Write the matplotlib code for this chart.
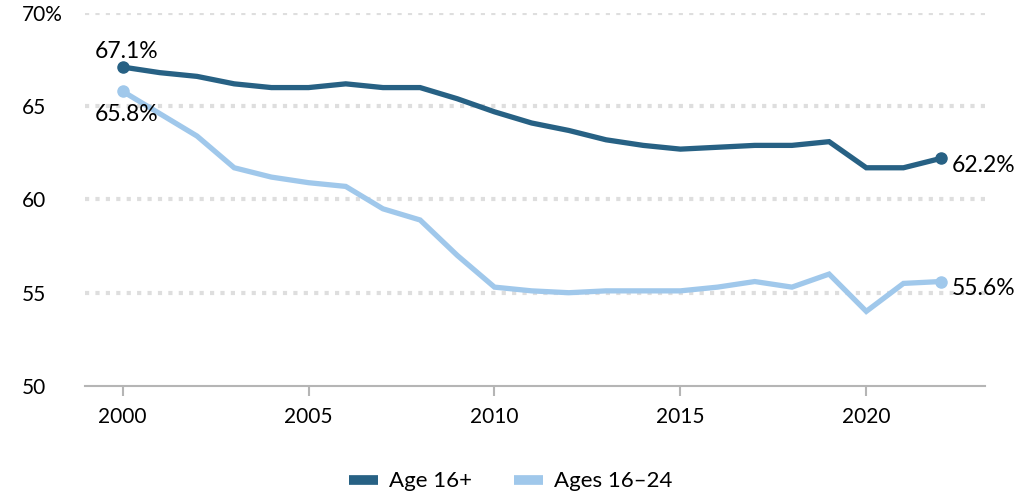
#!/usr/bin/env python3

import matplotlib
matplotlib.use("Agg")
import matplotlib.pyplot as plt

# labor force participation rate (%)
years = list(range(2000, 2023))
age16plus = [67.1, 66.8, 66.6, 66.2, 66.0, 66.0, 66.2, 66.0, 66.0, 65.4, 64.7,
             64.1, 63.7, 63.2, 62.9, 62.7, 62.8, 62.9, 62.9, 63.1, 61.7, 61.7, 62.2]
ages16_24 = [65.8, 64.6, 63.4, 61.7, 61.2, 60.9, 60.7, 59.5, 58.9, 57.0, 55.3,
             55.1, 55.0, 55.1, 55.1, 55.1, 55.3, 55.6, 55.3, 56.0, 54.0, 55.5, 55.6]
series_names = ["Age 16+", "Ages 16\u201324"]
yticks = [50, 55, 60, 65, 70]
ytick_labels = ["50", "55", "60", "65", "70%"]
xticks = [2000, 2005, 2010, 2015, 2020]

dark = "#276184"
light = "#a0c8eb"

plt.rcParams["font.family"] = ["Lato", "DejaVu Sans"]

fig = plt.figure(figsize=(10.21, 4.99), dpi=100)
ax = fig.add_axes([0.083, 0.2265, 0.882, 0.7475])

# dotted gridlines
for y in yticks[1:]:
    ax.axhline(y, color="#dedede", lw=3, linestyle=(0, (1, 1.5)), zorder=0)

p1, = ax.plot(years, age16plus, color=dark, lw=3.8, solid_joinstyle="miter", zorder=3)
p2, = ax.plot(years, ages16_24, color=light, lw=3.8, solid_joinstyle="miter", zorder=2)

# end point dots
ax.plot([years[0], years[-1]], [age16plus[0], age16plus[-1]], "o", color=dark, ms=8, zorder=4)
ax.plot([years[0], years[-1]], [ages16_24[0], ages16_24[-1]], "o", color=light, ms=8, zorder=4)

# value labels
fs = 16.5
ax.annotate(f"{age16plus[0]}%", (years[0], age16plus[0]), xytext=(3, 11),
            textcoords="offset points", ha="center", va="center", fontsize=fs)
ax.annotate(f"{ages16_24[0]}%", (years[0], ages16_24[0]), xytext=(3, -17),
            textcoords="offset points", ha="center", va="center", fontsize=fs)
ax.annotate(f"{age16plus[-1]}%", (years[-1], age16plus[-1]), xytext=(8, -5),
            textcoords="offset points", ha="left", va="center", fontsize=fs)
ax.annotate(f"{ages16_24[-1]}%", (years[-1], ages16_24[-1]), xytext=(8, -5),
            textcoords="offset points", ha="left", va="center", fontsize=fs)

ax.set_xlim(1998.98, 2023.2)
ax.set_ylim(50, 70)
ax.set_xticks(xticks)
ax.set_yticks(yticks)
ax.set_yticklabels(ytick_labels)
for lab in ax.get_yticklabels():
    lab.set_horizontalalignment("left")

ax.tick_params(axis="y", length=0, pad=45, labelsize=15, colors="black")
ax.tick_params(axis="x", length=7, width=1.5, color="#b5b5b5", pad=8, labelsize=15)

for s in ["top", "right", "left"]:
    ax.spines[s].set_visible(False)
ax.spines["bottom"].set_color("#b5b5b5")
ax.spines["bottom"].set_linewidth(1.5)

fig.legend([p1, p2], series_names, loc="lower center", bbox_to_anchor=(0.5, -0.025),
           ncol=2, frameon=False, fontsize=16, handlelength=1.3, columnspacing=1.9,
           handletextpad=0.5)
for h in fig.legends[0].legend_handles:
    h.set_linewidth(7)
    h.set_solid_capstyle("butt")

fig.savefig("out.png", dpi=100)
